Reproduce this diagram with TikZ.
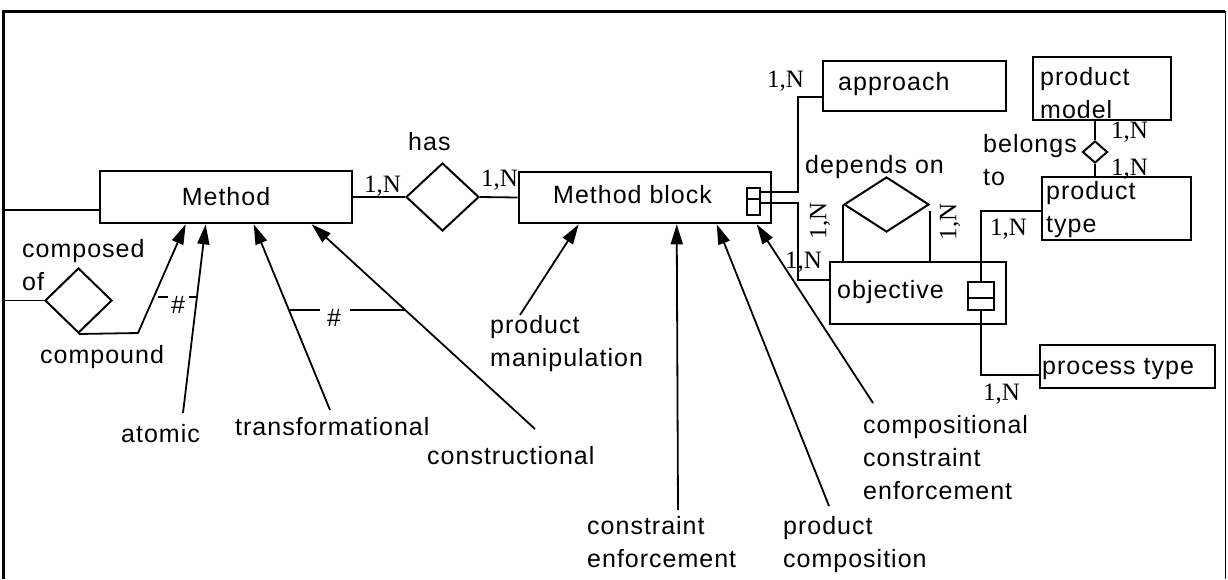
\documentclass[tikz,border=0pt]{standalone}
\usepackage{fontspec}
\setmainfont{Liberation Sans}[LetterSpace=4]
\newfontfamily\tms{Liberation Serif}
\usetikzlibrary{shapes.geometric,arrows.meta,calc}
\tikzset{
  lab/.style={font=\fontsize{25}{33}\selectfont, inner sep=0pt, anchor=base west, align=left},
  card/.style={font=\tms\fontsize{25}{30}\selectfont, inner sep=0pt, anchor=base west},
  box/.style={draw, line width=2.6pt, inner sep=0pt, font=\fontsize{25}{33}\selectfont},
  attr/.style={draw, line width=2.4pt, inner sep=0pt},
  rel/.style={draw, diamond, line width=2pt, inner sep=0pt},
  conn/.style={line width=1.8pt},
  arr/.style={conn, -{Triangle[length=20pt,width=12pt]}}
}
\begin{document}
\begin{tikzpicture}[x=1pt,y=-1pt]
\useasboundingbox (0,0) rectangle (1228,579);
% frame
\draw[line width=3pt] (3,579) -- (3,11) -- (1225,11);
\draw[line width=1pt] (1225,11) -- (1225,579);

% entity boxes
\node[box, minimum width=252pt, minimum height=52pt] (m) at (226,197) {Method};
\node[box, minimum width=252pt, minimum height=51pt] (mb) at (645,197.5) {};
\node[box, minimum width=183pt, minimum height=50pt] (ap) at (914.5,86) {};
\node[box, minimum width=138pt, minimum height=63pt] (pm) at (1102,88.5) {};
\node[box, minimum width=149pt, minimum height=63pt] (pt) at (1116.5,208.5) {};
\node[box, minimum width=176pt, minimum height=62pt] (ob) at (918,293) {};
\node[box, minimum width=175pt, minimum height=43pt] (ps) at (1127.5,366.5) {};

% attribute markers
\node[attr, minimum width=13pt, minimum height=27pt] (mba) at (753.5,201.5) {};
\draw[line width=2pt] (mba.west |- 0,199) -- (mba.east |- 0,199);
\node[attr, minimum width=26pt, minimum height=28pt] (oba) at (981,296) {};
\draw[line width=2pt] (oba.west |- 0,298) -- (oba.east |- 0,298);

% box texts (multi-line nodes: base = baseline of the last line)
\node[lab] (tmb) at (553,203) {Method block};
\node[lab] (tap) at (838,90) {approach};
\node[lab] (tpm) at (1040,118) {product\\model};
\node[lab] (tpt) at (1046,232) {product\\type};
\node[lab] (tob) at (837,298) {objective};
\node[lab] (tps) at (1042,374) {process type};

% relationships
\node[rel, minimum width=73pt, minimum height=68pt] (has) at (442.5,197) {};
\node[rel, minimum width=67pt, minimum height=65pt] (cof) at (78.5,300.5) {};
\node[rel, minimum width=85pt, minimum height=55pt] (dep) at (886.5,204.5) {};
\node[rel, minimum width=25pt, minimum height=22pt] (bel) at (1095,152) {};
\node[lab] (thas) at (408,150) {has};
\node[lab] (tdep) at (805,173) {depends on};
\node[lab] (tbel) at (983,185) {belongs\\to};
\node[lab] (tco) at (22,290) {composed\\of};

% labels of specialisations
\node[lab] (tcp) at (40,363) {compound};
\node[lab] (tat) at (121,442) {atomic};
\node[lab] (ttr) at (235,435) {transformational};
\node[lab] (tcn) at (427,464) {constructional};
\node[lab] (tpmn) at (490,366) {product\\manipulation};
\node[lab] (tce) at (587,567) {constraint\\enforcement};
\node[lab] (tpc) at (783,567) {product\\composition};
\node[lab] (tcce) at (863,499) {compositional\\constraint\\enforcement};

% cardinalities
\node[card] (c1) at (364,192) {1,N};
\node[card] (c2) at (481,186) {1,N};
\node[card] (c3) at (767,87) {1,N};
\node[card] (c4) at (1111,138) {1,N};
\node[card] (c5) at (1111,175) {1,N};
\node[card] (c6) at (990,235) {1,N};
\node[card] (c7) at (785,268) {1,N};
\node[card] (c8) at (983,400) {1,N};
\node[card, anchor=center, rotate=90] (c9) at (820,221) {1,N};
\node[card, anchor=center, rotate=90] (c10) at (950,222) {1,N};

% connectors
\coordinate (fl1) at (3,210);
\draw[conn] (fl1) -- (fl1 -| m.west);
\coordinate (fl2) at (3,300.5);
\draw[conn] (fl2) -- (cof.west);
\draw[conn] (m.east) -- (has.west);
\draw[conn] (has.east) -- (mb.west);
\coordinate (j1) at (798,192);
\coordinate (j2) at (798,203);
\coordinate (j3) at (798,97);
\coordinate (j4) at (798,280);
\draw[conn] (mba.east |- j1) -- (j1) -- (j3) -- (j3 -| ap.west);
\draw[conn] (mba.east |- j2) -- (j2) -- (j4) -- (j4 -| ob.west);
\draw[conn] (dep.west) -- (dep.west |- ob.north);
\coordinate (dr) at (930,211);
\draw[conn] (dr) -- (dr |- ob.north);
\coordinate (j5) at (981,211);
\draw[conn] (oba.north) -- (j5) -- (j5 -| pt.west);
\coordinate (j6) at (981,375);
\draw[conn] (oba.south) -- (j6) -- (j6 -| ps.west);
\draw[conn] (bel.north |- pm.south) -- (bel.north);
\draw[conn] (bel.south) -- (bel.south |- pt.north);

% specialisation arrows to Method
\coordinate (k1) at (138,333);
\draw[arr] (cof.south) -- (k1) -- ($(m.south west)+(87,0)$);
\coordinate (a1) at (183,413);
\draw[arr] (a1) -- ($(m.south west)+(107,0)$);
\coordinate (a2) at (330,410);
\draw[arr] (a2) -- ($(m.south west)+(155,0)$);
\coordinate (a3) at (535,429);
\draw[arr] (a3) -- ($(m.south west)+(213,0)$);
% specialisation arrows to Method block
\coordinate (b1) at (520,315);
\draw[arr] (b1) -- ($(mb.south west)+(61,0)$);
\coordinate (b2) at (678,510);
\draw[arr] (b2) -- ($(mb.south west)+(159,0)$);
\coordinate (b3) at (829,506);
\draw[arr] (b3) -- ($(mb.south west)+(199,0)$);
\coordinate (b4) at (873,403);
\draw[arr] (b4) -- ($(mb.south west)+(239,0)$);

% exclusion marks
\draw[conn] (158,297) -- (168,297);
\draw[conn] (189,297) -- (197,297);
\node[lab, anchor=center] (x1) at (178,305) {\#};
\draw[conn] (290,310) -- (320,310);
\draw[conn] (350,310) -- (405,310);
\node[lab, anchor=center] (x2) at (334,318) {\#};
\end{tikzpicture}
\end{document}
